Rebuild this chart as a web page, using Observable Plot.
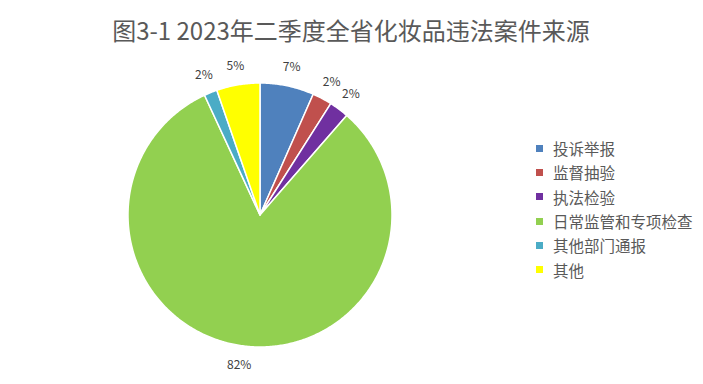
<!DOCTYPE html>
<html>
<head>
<meta charset="utf-8">
<script src="https://cdn.jsdelivr.net/npm/d3@7"></script>
<script src="https://cdn.jsdelivr.net/npm/@observablehq/plot@0.6"></script>
<style>
  html, body { margin: 0; padding: 0; background: #fff; }
  #wrap { position: relative; width: 703px; height: 384px; overflow: hidden; font-family: "Noto Sans CJK SC", sans-serif; }
  #legend { position: absolute; left: 536px; top: 136px; }
  .lg-swatches { font-family: "Noto Sans CJK SC", sans-serif !important; font-size: 15.5px !important; color: #595959; margin: 0 !important; }
  .lg-swatch { height: 24.3px; padding: 0 !important; margin: 0 !important; display: flex; align-items: center; }
  .lg-swatch svg { margin-right: 10px !important; }
</style>
</head>
<body>
<div id="wrap"><div id="chart"></div><div id="legend"></div></div>
<script>
const titleText = "图3-1 2023年二季度全省化妆品违法案件来源";
const names = ["投诉举报", "监督抽验", "执法检验", "日常监管和专项检查", "其他部门通报", "其他"];
const values = [6.6, 2.4, 2.4, 81.7, 1.6, 5.3];
const colors = ["#4F81BD", "#C0504D", "#7030A0", "#92D050", "#4BACC6", "#FFFF00"];

const W = 703, H = 384;
const CX = 260, CY = 215, R = 132; // pie layout in pixels
const labelR = 1.145;

const arcs = d3.pie().sort(null).value(d => d)(values);
const slices = [];
const labels = [];
arcs.forEach((a, i) => {
  const n = Math.max(2, Math.ceil((a.endAngle - a.startAngle) / 0.01));
  for (let k = 0; k <= n; k++) {
    const t = a.startAngle + (a.endAngle - a.startAngle) * k / n;
    slices.push({name: names[i], x: Math.sin(t), y: Math.cos(t), cx: 0, cy: 0});
  }
  const m = (a.startAngle + a.endAngle) / 2;
  labels.push({x: labelR * Math.sin(m), y: labelR * Math.cos(m), text: Math.round(values[i]) + "%"});
});

const chart = Plot.plot({
  width: W, height: H,
  marginTop: 0, marginRight: 0, marginBottom: 0, marginLeft: 0,
  style: {background: "#fff", fontFamily: "\"Noto Sans CJK SC\", sans-serif", overflow: "visible"},
  x: {domain: [-CX / R, (W - CX) / R], axis: null},
  y: {domain: [-(H - CY) / R, CY / R], axis: null},
  color: {domain: names, range: colors},
  marks: [
    Plot.area(slices, {x1: "x", y1: "y", x2: "cx", y2: "cy", z: "name", fill: "name", stroke: "#fff", strokeWidth: 1.5, curve: "linear"}),
    Plot.text(labels, {x: "x", y: "y", text: "text", fill: "#404040", fontSize: 12}),
    Plot.text([titleText], {frameAnchor: "top", dx: -1, dy: 22, text: d => d, fill: "#595959", fontSize: 24, fontFamily: "\"Noto Sans CJK SC\", sans-serif"})
  ]
});
document.getElementById("chart").appendChild(chart);

const legend = Plot.legend({
  legend: "swatches",
  color: {type: "ordinal", domain: names, range: colors},
  columns: 1,
  swatchSize: 7,
  className: "lg"
});
document.getElementById("legend").appendChild(legend);
</script>
</body>
</html>
